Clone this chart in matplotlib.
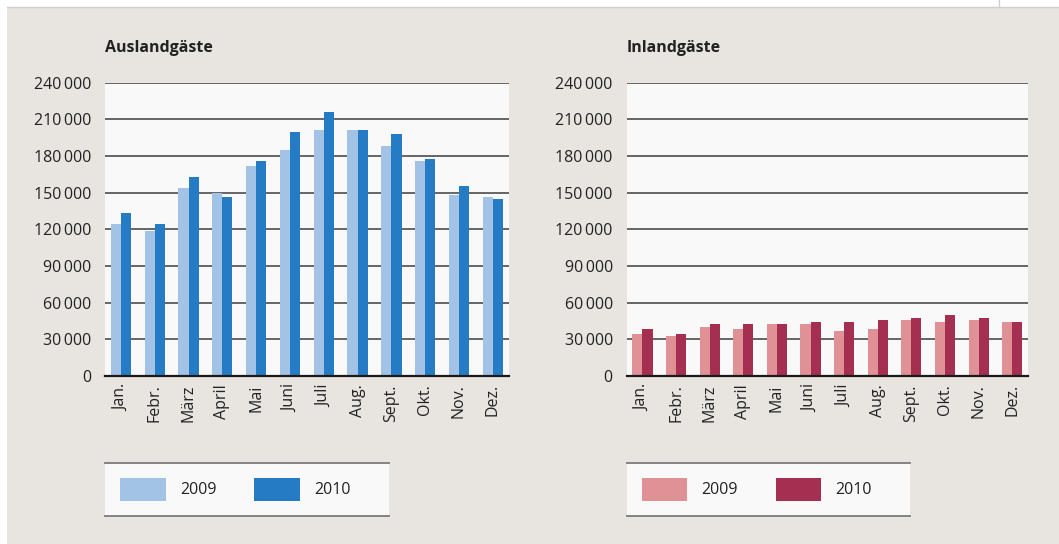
import matplotlib.pyplot as plt
import numpy as np
from matplotlib.patches import Rectangle
from matplotlib.lines import Line2D

months = ['Jan.', 'Febr.', 'März', 'April', 'Mai', 'Juni', 'Juli', 'Aug.', 'Sept.', 'Okt.', 'Nov.', 'Dez.']
years = ['2009', '2010']

ausland_2009 = [124500, 119000, 154000, 149500, 172000, 185000, 201500, 201500, 188500, 176000, 148000, 146600]
ausland_2010 = [133500, 124500, 163000, 146600, 176000, 200000, 216000, 201500, 198000, 177700, 155500, 145000]

inland_2009 = [34400, 32700, 40100, 38400, 42500, 42500, 36800, 38400, 45800, 44200, 45800, 44200]
inland_2010 = [38400, 34400, 42500, 42500, 42500, 44200, 44200, 45800, 47400, 49900, 47400, 44200]

yticks = [0, 30000, 60000, 90000, 120000, 150000, 180000, 210000, 240000]

plt.rcParams['font.family'] = ['Open Sans', 'DejaVu Sans']

W, H = 1059, 544
fig = plt.figure(figsize=(W / 100, H / 100), dpi=100, facecolor='white')

# beige panel and thin top rule
fig.add_artist(Rectangle((7 / W, 0), 1, (H - 7) / H, transform=fig.transFigure,
                         facecolor='#e8e5e0', edgecolor='none', zorder=-10))
fig.add_artist(Line2D([7 / W, 1], [(H - 6.5) / H] * 2, color='#cfcfcf', lw=1, zorder=-5))
fig.add_artist(Line2D([999 / W] * 2, [(H - 6.5) / H, 1], color='#cfcfcf', lw=1, zorder=-5))


def fmt(v):
    return f'{v:,}'.replace(',', '\u2009')


def draw_panel(left, right, title, s09, s10, c09, c10, leg_right):
    ax = fig.add_axes([left / W, (H - 376) / H, (right - left) / W, (376 - 82.7) / H])
    ax.set_facecolor('#f9f9f9')
    x = np.arange(len(months))
    w = 0.3
    ax.bar(x - w / 2, s09, w, color=c09, zorder=3)
    ax.bar(x + w / 2, s10, w, color=c10, zorder=3)
    ax.set_xlim(-0.47, len(months) - 0.53)
    ax.set_ylim(0, 240000)
    ax.set_yticks(yticks)
    ax.set_yticklabels([fmt(v) for v in yticks], fontsize=11.5, color='#222222')
    ax.set_xticks(x)
    ax.set_xticklabels(months, rotation=90, fontsize=11.5, color='#222222')
    ax.tick_params(length=0, axis='y', pad=10)
    ax.tick_params(length=0, axis='x', pad=6)
    for v in yticks[1:]:
        ax.axhline(v, color='#5a5a5a', lw=1.3, zorder=2)
    for s in ['left', 'right', 'top']:
        ax.spines[s].set_visible(False)
    ax.spines['bottom'].set_color('#1a1a1a')
    ax.spines['bottom'].set_linewidth(1.6)
    ax.spines['bottom'].set_zorder(4)
    fig.text(left / W, (H - 48) / H, title, fontsize=11.5, fontweight='bold',
             color='#222222', va='center', ha='left')

    # legend box
    lax = fig.add_axes([left / W, (H - 516) / H, (leg_right - left) / W, 53 / H])
    lax.set_facecolor('#f9f9f9')
    lax.set_xlim(0, leg_right - left)
    lax.set_ylim(0, 53)
    lax.set_xticks([])
    lax.set_yticks([])
    for s in ['left', 'right']:
        lax.spines[s].set_visible(False)
    for s in ['top', 'bottom']:
        lax.spines[s].set_color('#7a7a7a')
        lax.spines[s].set_linewidth(1.3)
    for i, (lab, c) in enumerate(zip(years, [c09, c10])):
        x0 = 15 + i * 134
        lax.add_patch(Rectangle((x0, 15), 45.5, 23, facecolor=c, edgecolor='none'))
        lax.text(x0 + 60, 26.5, lab, fontsize=11.5, color='#222222', va='center', ha='left')
    return ax


draw_panel(105, 508.7, 'Auslandgäste', ausland_2009, ausland_2010, '#a3c3e6', '#257cc4', 388.7)
draw_panel(626.7, 1028, 'Inlandgäste', inland_2009, inland_2010, '#e09196', '#a52f50', 910)

fig.savefig('out.png', dpi=100, facecolor=fig.get_facecolor())
